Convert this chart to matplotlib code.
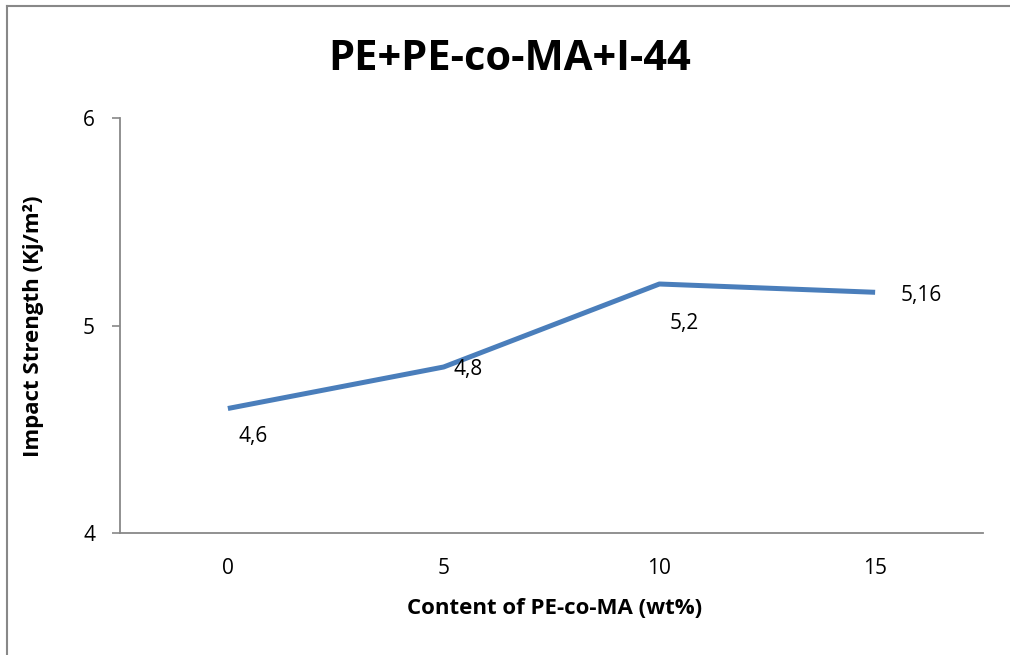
import matplotlib
matplotlib.use("Agg")
import matplotlib.pyplot as plt
from matplotlib.lines import Line2D

plt.rcParams['font.family'] = ['Open Sans', 'DejaVu Sans']

# PE-co-MA content (wt%) and measured impact strength
contents = ['0', '5', '10', '15']
strength = [4.6, 4.8, 5.2, 5.16]
value_labels = ['4,6', '4,8', '5,2', '5,16']
# label offsets from each point, in pixels
label_offsets = [(25, -28), (25, -3), (25, -40), (46, -3)]

fig = plt.figure(figsize=(10.1, 6.55), dpi=100)
ax = fig.add_axes([120 / 1010, 1 - 533 / 655, 863 / 1010, 415 / 655])

x = list(range(len(contents)))
ax.plot(x, strength, color='#4A7EBB', linewidth=3.6, solid_capstyle='butt')

for xi, yi, lab, off in zip(x, strength, value_labels, label_offsets):
    ax.annotate(lab, (xi, yi), xytext=off, textcoords='offset pixels',
                ha='center', va='center', fontsize=15)

ax.set_xlim(-0.5, len(contents) - 0.5)
ax.set_ylim(4, 6)
ax.set_yticks([4, 5, 6])
ax.set_xticks(x)
ax.set_xticklabels(contents)
ax.tick_params(axis='x', length=0, labelsize=15, pad=18)
ax.tick_params(axis='y', length=6, width=1.2, color='#888888', labelsize=15, pad=12)

for side in ['top', 'right']:
    ax.spines[side].set_visible(False)
for side in ['left', 'bottom']:
    ax.spines[side].set_color('#888888')
    ax.spines[side].set_linewidth(1.3)

ax.set_xlabel('Content of PE-co-MA (wt%)', fontsize=16, fontweight='bold')
ax.set_ylabel('Impact Strength (Kj/m²)', fontsize=16, fontweight='bold')
ax.xaxis.set_label_coords(0.503, -0.181)
ax.yaxis.set_label_coords(-0.1008, 0.499)
for lbl in (ax.xaxis.label, ax.yaxis.label):
    lbl.set_verticalalignment('center')
fig.text(0.505, 1 - 60 / 655, 'PE+PE-co-MA+I-44', ha='center', va='center',
         fontsize=30, fontweight='bold')

# outer chart frame (left and top edges)
fig.add_artist(Line2D([7 / 1010, 7 / 1010], [0, 1 - 6 / 655], transform=fig.transFigure,
                      color='#888888', linewidth=1.5))
fig.add_artist(Line2D([7 / 1010, 1], [1 - 6 / 655, 1 - 6 / 655], transform=fig.transFigure,
                      color='#888888', linewidth=1.5))

fig.savefig('out.png', dpi=100)
